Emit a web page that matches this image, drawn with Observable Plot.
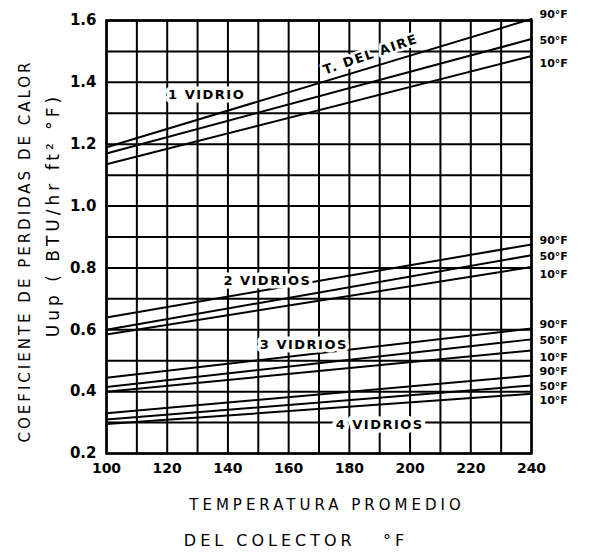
<!DOCTYPE html>
<html>
<head>
<meta charset="utf-8">
<script src="https://cdn.jsdelivr.net/npm/d3@7"></script>
<script src="https://cdn.jsdelivr.net/npm/@observablehq/plot@0.6"></script>
<style>
  html, body { margin: 0; padding: 0; background: white; }
</style>
</head>
<body>
<div id="chart"></div>
<script>
// Collector mean temperature (°F) at which each straight line is read
const temps = [100, 240];
// Air temperature curves
const airTemps = ["90°F", "50°F", "10°F"];
// Glazing groups
const glazings = ["1 VIDRIO", "2 VIDRIOS", "3 VIDRIOS", "4 VIDRIOS"];
// Heat-loss coefficient Uup at [100°F, 240°F] for 90°F, 50°F, 10°F air
const vidrio1 = [[1.19, 1.605], [1.17, 1.54], [1.135, 1.485]];
const vidrio2 = [[0.64, 0.876], [0.60, 0.841], [0.585, 0.803]];
const vidrio3 = [[0.445, 0.604], [0.415, 0.569], [0.40, 0.533]];
const vidrio4 = [[0.33, 0.452], [0.31, 0.42], [0.295, 0.393]];
// Axis ticks
const xTicks = [100, 120, 140, 160, 180, 200, 220, 240];
const yTicks = [0.2, 0.4, 0.6, 0.8, 1.0, 1.2, 1.4, 1.6];
const xGrid = [100, 110, 120, 130, 140, 150, 160, 170, 180, 190, 200, 210, 220, 230, 240];
const yGrid = [0.2, 0.3, 0.4, 0.5, 0.6, 0.7, 0.8, 0.9, 1.0, 1.1, 1.2, 1.3, 1.4, 1.5, 1.6];

const groups = [vidrio1, vidrio2, vidrio3, vidrio4];
const rows = [];
const ends = [];
groups.forEach((g, gi) => {
  g.forEach((vals, ai) => {
    vals.forEach((u, ti) => rows.push({glazing: glazings[gi], air: airTemps[ai], ai, x: temps[ti], u}));
    ends.push({glazing: glazings[gi], air: airTemps[ai], ai, x: temps[1], u: vals[1]});
  });
});

const labelShift = [-4, 1, 7];
const endLabels = airTemps.map((a, ai) =>
  Plot.text(ends.filter(d => d.ai === ai), {x: "x", y: "u", text: "air", textAnchor: "start",
    dx: 8, dy: labelShift[ai], fontSize: 11, fontWeight: "bold"}));

const font = "DejaVu Sans";
const chart = Plot.plot({
  width: 589,
  height: 556,
  marginLeft: 106,
  marginRight: 58,
  marginTop: 20,
  marginBottom: 103,
  style: {fontFamily: font, color: "black", background: "white"},
  x: {domain: [100, 240]},
  y: {domain: [0.2, 1.6]},
  marks: [
    Plot.gridX(xGrid, {stroke: "black", strokeOpacity: 1, strokeWidth: 2}),
    Plot.gridY(yGrid, {stroke: "black", strokeOpacity: 1, strokeWidth: 2}),
    Plot.frame({stroke: "black", strokeWidth: 2.5}),
    Plot.line(rows, {x: "x", y: "u", z: d => d.glazing + d.air, stroke: "black", strokeWidth: 2}),
    Plot.axisX({ticks: xTicks, tickSize: 0, tickPadding: 10, fontSize: 14, fontWeight: "bold", label: null}),
    Plot.axisY({ticks: yTicks, tickSize: 0, tickPadding: 10, fontSize: 15, fontWeight: "bold", tickFormat: d3.format(".1f"), label: null}),
    // Right-hand air temperature labels
    ...endLabels,
    // Glazing labels with white background
    Plot.text([glazings[0]], {x: 133, y: 1.36, fontSize: 13, fontWeight: "bold", stroke: "white", strokeWidth: 7, fill: "black"}),
    Plot.text([glazings[1]], {x: 153, y: 0.757, fontSize: 13, fontWeight: "bold", stroke: "white", strokeWidth: 7, fill: "black"}),
    Plot.text([glazings[2]], {x: 165, y: 0.55, fontSize: 13, fontWeight: "bold", stroke: "white", strokeWidth: 7, fill: "black"}),
    Plot.text([glazings[3]], {x: 190, y: 0.294, fontSize: 13, fontWeight: "bold", stroke: "white", strokeWidth: 9, fill: "black"}),
    Plot.text(["T. DEL AIRE"], {x: 187, y: 1.49, rotate: -19, fontSize: 13, fontWeight: "bold", stroke: "white", strokeWidth: 5, fill: "black"}),
    // Axis titles
    Plot.text(["COEFICIENTE DE PERDIDAS DE CALOR"], {frameAnchor: "left", textAnchor: "middle", lineAnchor: "middle", dx: -81, dy: 14, rotate: -90, fontSize: 15}),
    Plot.text(["Uup ( BTU/hr ft² °F)"], {frameAnchor: "left", textAnchor: "middle", lineAnchor: "middle", dx: -53, dy: -22, rotate: -90, fontSize: 17}),
    Plot.text(["TEMPERATURA PROMEDIO"], {frameAnchor: "bottom", textAnchor: "middle", lineAnchor: "middle", dx: 8, dy: 52, fontSize: 15}),
    Plot.text(["DEL COLECTOR\u00a0\u00a0\u00a0°F"], {frameAnchor: "bottom", textAnchor: "middle", lineAnchor: "middle", dx: -23, dy: 87, fontSize: 16})
  ]
});

// hand-lettered spacing for titles
d3.select(chart).selectAll("text").each(function() {
  const t = this.textContent;
  if (t === "COEFICIENTE DE PERDIDAS DE CALOR") this.setAttribute("letter-spacing", "3");
  if (t === "Uup ( BTU/hr ft² °F)") this.setAttribute("letter-spacing", "4");
  if (t === "TEMPERATURA PROMEDIO") this.setAttribute("letter-spacing", "4");
  if (t.startsWith("DEL COLECTOR")) this.setAttribute("letter-spacing", "4");
  if (glazings.includes(t) || t === "T. DEL AIRE") this.setAttribute("letter-spacing", "1.5");
});

document.getElementById("chart").appendChild(chart);
</script>
</body>
</html>
